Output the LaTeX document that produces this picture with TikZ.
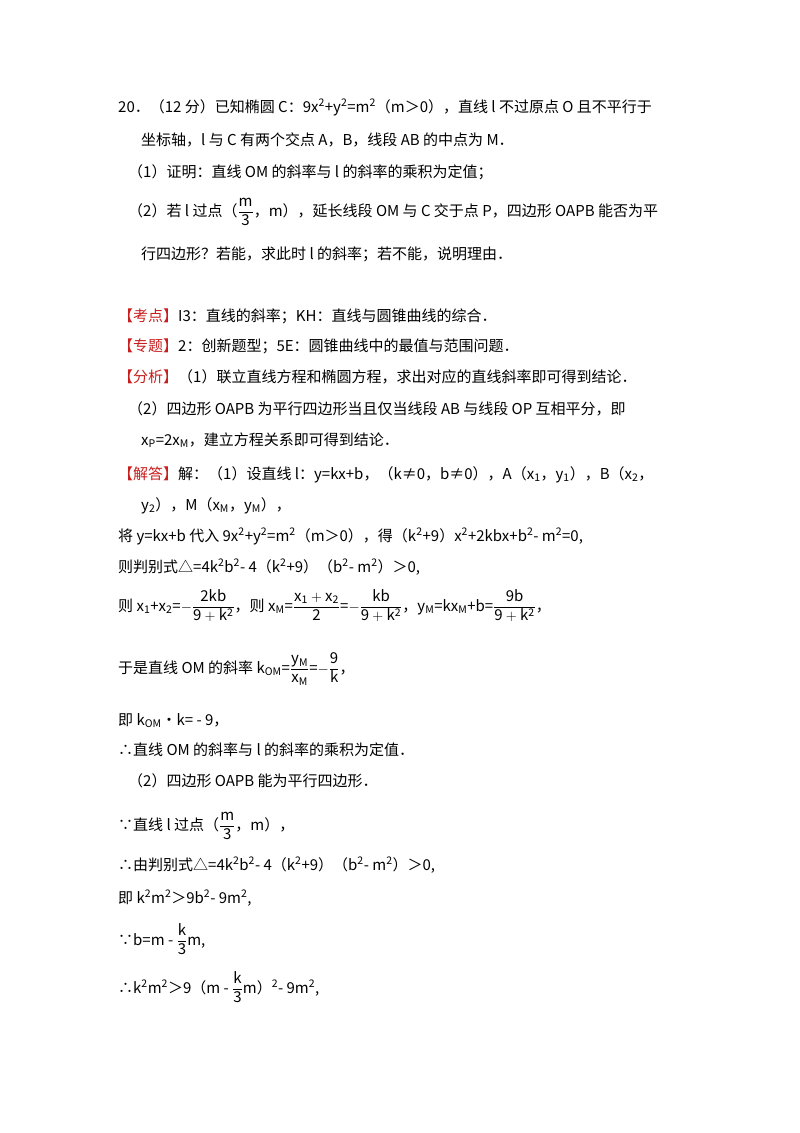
\documentclass[tikz,border=0pt]{standalone}
\usepackage{fontspec}
\setmainfont{Noto Sans CJK SC}
\definecolor{rd}{RGB}{200,30,30}
\newcommand{\sq}{\textsuperscript{2}}
\newcommand{\sub}[1]{\textsubscript{#1}}
\newcommand{\fr}[2]{$\displaystyle\frac{\mathrm{#1}}{\mathrm{#2}}$}
\begin{document}
\begin{tikzpicture}[x=1pt,y=-1pt,every node/.style={anchor=base west,inner sep=0pt,font=\fontsize{15}{17}\selectfont}]
\useasboundingbox (0,0) rectangle (800,1133);
\fill[white] (0,0) rectangle (800,1133);
\node (l1) at (118,112) {20．（12 分）已知椭圆 C：9x\sq+y\sq=m\sq（m＞0），直线 l 不过原点 O 且不平行于};
\node (l2) at (141,145) {坐标轴，l 与 C 有两个交点 A，B，线段 AB 的中点为 M．};
\node (l3) at (128,177) {（1）证明：直线 OM 的斜率与 l 的斜率的乘积为定值；};
\node (l4) at (128,216) {（2）若 l 过点（\fr{m}{3}，m），延长线段 OM 与 C 交于点 P，四边形 OAPB 能否为平};
\node (l5) at (141,259) {行四边形？若能，求此时 l 的斜率；若不能，说明理由．};
\node (l6) at (118,321) {\textcolor{rd}{【考点】}I3：直线的斜率；KH：直线与圆锥曲线的综合．};
\node (l7) at (118,351) {\textcolor{rd}{【专题】}2：创新题型；5E：圆锥曲线中的最值与范围问题．};
\node (l8) at (118,382) {\textcolor{rd}{【分析】}（1）联立直线方程和椭圆方程，求出对应的直线斜率即可得到结论．};
\node (l9) at (128,414) {（2）四边形 OAPB 为平行四边形当且仅当线段 AB 与线段 OP 互相平分，即};
\node (l10) at (141,445) {x\sub{P}=2x\sub{M}，建立方程关系即可得到结论．};
\node (l11) at (118,479) {\textcolor{rd}{【解答】}解：（1）设直线 l：y=kx+b，（k≠0，b≠0），A（x\sub{1}，y\sub{1}），B（x\sub{2}，};
\node (l12) at (141,510) {y\sub{2}），M（x\sub{M}，y\sub{M}），};
\node (l13) at (118,541) {将 y=kx+b 代入 9x\sq+y\sq=m\sq（m＞0），得（k\sq+9）x\sq+2kbx+b\sq - m\sq=0,};
\node (l14) at (118,572) {则判别式△=4k\sq b\sq - 4（k\sq+9）（b\sq - m\sq）＞0,};
\node (l15) at (118,611) {则 x\sub{1}+x\sub{2}=$-$\fr{2kb}{9+k^2}，则 x\sub{M}=\fr{x_1+x_2}{2}=$-$\fr{kb}{9+k^2}，y\sub{M}=kx\sub{M}+b=\fr{9b}{9+k^2}，};
\node (l16) at (118,673) {于是直线 OM 的斜率 k\sub{OM}=\fr{y_M}{x_M}=$-$\fr{9}{k}，};
\node (l17) at (118,725) {即 k\sub{OM}•k= - 9，};
\node (l18) at (118,755) {∴直线 OM 的斜率与 l 的斜率的乘积为定值．};
\node (l19) at (128,786) {（2）四边形 OAPB 能为平行四边形．};
\node (l20) at (118,830) {∵直线 l 过点（\fr{m}{3}，m），};
\node (l21) at (118,870) {∴由判别式△=4k\sq b\sq - 4（k\sq+9）（b\sq - m\sq）＞0,};
\node (l22) at (118,903) {即 k\sq m\sq＞9b\sq - 9m\sq,};
\node (l23) at (118,945) {∵b=m - \fr{k}{3}m,};
\node (l24) at (118,993) {∴k\sq m\sq＞9（m - \fr{k}{3}m）\sq - 9m\sq,};
\end{tikzpicture}
\end{document}
